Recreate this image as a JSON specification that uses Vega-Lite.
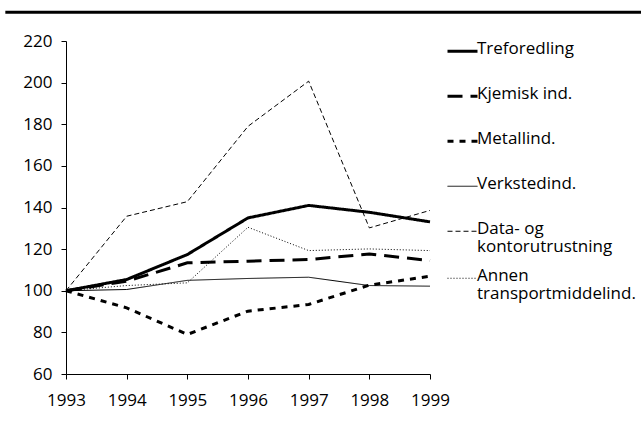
{
  "$schema": "https://vega.github.io/schema/vega-lite/v6.json",
  "width": 364,
  "height": 333,
  "autosize": {"type": "none"},
  "padding": {"left": 66, "top": 41, "right": 211, "bottom": 47},
  "background": "white",
  "config": {
    "view": {"stroke": null},
    "font": "Open Sans",
    "axis": {
      "grid": false,
      "domainColor": "black",
      "domainWidth": 1,
      "tickColor": "black",
      "tickWidth": 1,
      "tickSize": 5,
      "labelFont": "Open Sans",
      "labelFontSize": 17,
      "labelColor": "black",
      "labelFlush": false,
      "labelOverlap": false,
      "title": null
    },
    "legend": {
      "labelFont": "Open Sans",
      "labelFontSize": 17,
      "labelColor": "black",
      "padding": 0
    }
  },
  "data": {
    "values": [
      {"series": "Treforedling", "year": 1993, "value": 100},
      {"series": "Treforedling", "year": 1994, "value": 105.4},
      {"series": "Treforedling", "year": 1995, "value": 117.4},
      {"series": "Treforedling", "year": 1996, "value": 135},
      {"series": "Treforedling", "year": 1997, "value": 141},
      {"series": "Treforedling", "year": 1998, "value": 137.7},
      {"series": "Treforedling", "year": 1999, "value": 133.1},
      {"series": "Kjemisk ind.", "year": 1993, "value": 100},
      {"series": "Kjemisk ind.", "year": 1994, "value": 104.6},
      {"series": "Kjemisk ind.", "year": 1995, "value": 113.4},
      {"series": "Kjemisk ind.", "year": 1996, "value": 114.2},
      {"series": "Kjemisk ind.", "year": 1997, "value": 115},
      {"series": "Kjemisk ind.", "year": 1998, "value": 117.7},
      {"series": "Kjemisk ind.", "year": 1999, "value": 114.5},
      {"series": "Metallind.", "year": 1993, "value": 100},
      {"series": "Metallind.", "year": 1994, "value": 91.8},
      {"series": "Metallind.", "year": 1995, "value": 79},
      {"series": "Metallind.", "year": 1996, "value": 90.2},
      {"series": "Metallind.", "year": 1997, "value": 93.4},
      {"series": "Metallind.", "year": 1998, "value": 102.7},
      {"series": "Metallind.", "year": 1999, "value": 107},
      {"series": "Verkstedind.", "year": 1993, "value": 100},
      {"series": "Verkstedind.", "year": 1994, "value": 100.6},
      {"series": "Verkstedind.", "year": 1995, "value": 105},
      {"series": "Verkstedind.", "year": 1996, "value": 105.9},
      {"series": "Verkstedind.", "year": 1997, "value": 106.5},
      {"series": "Verkstedind.", "year": 1998, "value": 102.5},
      {"series": "Verkstedind.", "year": 1999, "value": 102.2},
      {"series": "Data- og kontorutrustning", "year": 1993, "value": 100},
      {"series": "Data- og kontorutrustning", "year": 1994, "value": 135.8},
      {"series": "Data- og kontorutrustning", "year": 1995, "value": 142.8},
      {"series": "Data- og kontorutrustning", "year": 1996, "value": 179},
      {"series": "Data- og kontorutrustning", "year": 1997, "value": 200.7},
      {"series": "Data- og kontorutrustning", "year": 1998, "value": 130.2},
      {"series": "Data- og kontorutrustning", "year": 1999, "value": 138.6},
      {"series": "Annen transportmiddelind.", "year": 1993, "value": 100},
      {"series": "Annen transportmiddelind.", "year": 1994, "value": 102.5},
      {"series": "Annen transportmiddelind.", "year": 1995, "value": 103.8},
      {"series": "Annen transportmiddelind.", "year": 1996, "value": 130.5},
      {"series": "Annen transportmiddelind.", "year": 1997, "value": 119.3},
      {"series": "Annen transportmiddelind.", "year": 1998, "value": 120.1},
      {"series": "Annen transportmiddelind.", "year": 1999, "value": 119.3}
    ]
  },
  "layer": [
    {
      "mark": {"type": "line", "color": "black"},
      "encoding": {
        "x": {
          "field": "year",
          "type": "quantitative",
          "scale": {"domain": [1993, 1999], "nice": false, "zero": false},
          "axis": {
            "values": [1993, 1994, 1995, 1996, 1997, 1998, 1999],
            "format": "d",
            "labelPadding": 13,
            "encode": {"ticks": {"update": {"y": {"value": -6}}}}
          }
        },
        "y": {
          "field": "value",
          "type": "quantitative",
          "scale": {"domain": [60, 220], "nice": false, "zero": false},
          "axis": {
            "values": [60, 80, 100, 120, 140, 160, 180, 200, 220],
            "labelPadding": 9,
            "encode": {"ticks": {"update": {"x": {"value": 6}}}}
          }
        },
        "strokeDash": {
          "field": "series",
          "type": "nominal",
          "scale": {
            "domain": ["Treforedling", "Kjemisk ind.", "Metallind.", "Verkstedind.", "Data- og kontorutrustning", "Annen transportmiddelind."],
            "range": [[1, 0], [15, 8], [6, 6], [1, 0], [5, 3], [1, 2]]
          },
          "legend": {
            "title": null,
            "orient": "none",
            "legendX": 380,
            "legendY": -12,
            "symbolType": "stroke",
            "symbolSize": 900,
            "symbolStrokeColor": "black",
            "clipHeight": 44.5,
            "rowPadding": 0,
            "labelOffset": -2,
            "labelLimit": 300,
            "labelBaseline": "top",
            "labelExpr": "datum.label == 'Data- og kontorutrustning' ? ['Data- og', 'kontorutrustning'] : datum.label == 'Annen transportmiddelind.' ? ['Annen', 'transportmiddelind.'] : datum.label",
            "encode": {"labels": {"update": {"dy": {"value": -10}, "lineHeight": {"value": 18}}}}
          }
        },
        "strokeWidth": {
          "field": "series",
          "type": "nominal",
          "scale": {
            "type": "ordinal",
            "domain": ["Treforedling", "Kjemisk ind.", "Metallind.", "Verkstedind.", "Data- og kontorutrustning", "Annen transportmiddelind."],
            "range": [3, 3, 3, 1, 1, 1]
          }
        }
      }
    },
    {
      "data": {"values": [{}]},
      "mark": {"type": "rule", "color": "black", "strokeWidth": 3},
      "encoding": {
        "x": {"datum": 1992},
        "x2": {"datum": 2002.5},
        "y": {"datum": 233.8}
      }
    }
  ]
}
